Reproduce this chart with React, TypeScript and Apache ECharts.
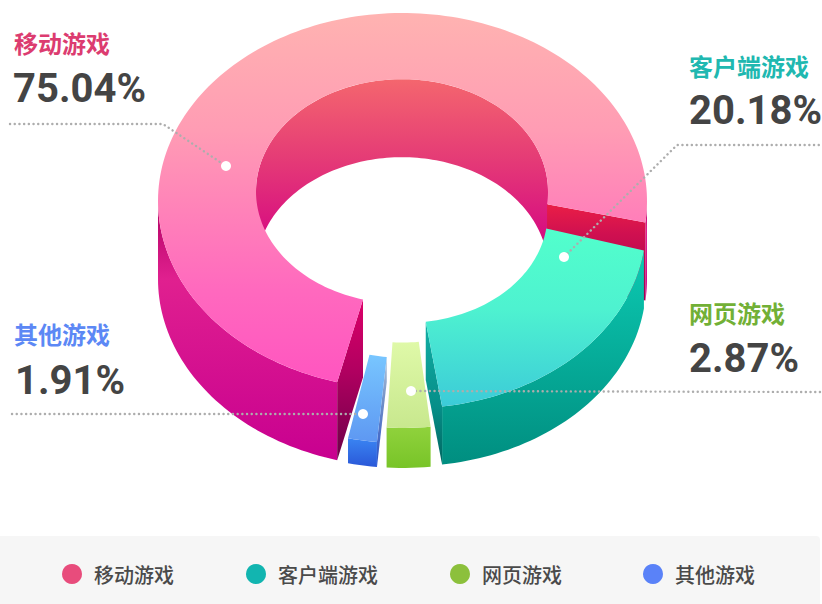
import React, { useEffect, useRef } from "react";
import * as echarts from "echarts";

const categories = ["移动游戏", "客户端游戏", "网页游戏", "其他游戏"];
const shares = [75.04, 20.18, 2.87, 1.91];

const CJK = '"Noto Sans CJK SC", "Noto Sans", sans-serif';
const NUM = 'Roboto, "Noto Sans", sans-serif';

const vgrad = (stops: [number, string][]) => ({
  type: "linear", x: 0, y: 0, x2: 0, y2: 1,
  colorStops: stops.map(([offset, color]) => ({ offset, color })),
});

const OUTER = { cx: 402.5, cy: 201, rx: 244.5, ry: 188 };
const INNER = { cx: 402, cy: 191.4, rx: 146, ry: 112.2 };

type Look = {
  start: number; scale: number; dx: number; dy: number; rot: number; depth: number;
  top: any; wall: any; innerWall?: any; caps: { at: "start" | "end"; fill: any }[];
};

const looks: Look[] = [
  {
    start: 105.5, scale: 0.9665, dx: 0, dy: 0, rot: 0, depth: 78,
    top: vgrad([[0, "#FFB3B1"], [0.32, "#FF9CB4"], [0.5, "#FF86B8"], [0.75, "#FF69BE"], [1, "#FF55C0"]]),
    wall: vgrad([[0, "#B00060"], [0.3, "#E0208F"], [1, "#C80090"]]),
    innerWall: vgrad([[0, "#F4666E"], [0.41, "#E53C76"], [0.8, "#D81080"], [1, "#C80488"]]),
    caps: [
      { at: "start", fill: vgrad([[0, "#DC0068"], [0.45, "#B00060"], [1, "#6C0048"]]) },
      { at: "end", fill: vgrad([[0, "#EA1E46"], [0.3, "#D01050"], [1, "#A00050"]]) },
    ],
  },
  {
    start: 5.6, scale: 1, dx: -1, dy: 19, rot: 0.05, depth: 58,
    top: vgrad([[0, "#52FFCC"], [0.45, "#4EF2D0"], [1, "#3CCBD8"]]),
    wall: vgrad([[0, "#0CCAB2"], [1, "#008E80"]]),
    caps: [{ at: "end", fill: vgrad([[0, "#12AFA6"], [0.6, "#068E88"], [1, "#006660"]]) }],
  },
  {
    start: 83.4, scale: 1, dx: 0, dy: 39, rot: 0, depth: 40,
    top: vgrad([[0, "#DFF9A8"], [1, "#C8E88E"]]),
    wall: vgrad([[0, "#90D23C"], [1, "#78C428"]]),
    caps: [],
  },
  {
    start: 96, scale: 1, dx: 0, dy: 54, rot: 0, depth: 25,
    top: vgrad([[0, "#78C6FF"], [1, "#5E98F2"]]),
    wall: vgrad([[0, "#3A84F2"], [1, "#2A58D8"]]),
    caps: [{ at: "start", fill: vgrad([[0, "#B8C8D8"], [0.4, "#7090C8"], [1, "#2850C8"]]) }],
  },
];

const legendColors = ["#E84C7C", "#12B5B0", "#8CC03C", "#5A82F8"];
const titleColors = ["#DC3C70", "#20B8B0", "#72B036", "#5C88F5"];
const labelPos: [number, number, number, number][] = [
  [14, 42, 13, 88],
  [689, 65, 689, 110],
  [689, 312, 689, 358],
  [14, 333, 15, 380],
];
const leaders: number[][][] = [
  [[10, 124], [163, 124], [226, 166]],
  [[564, 257], [677, 145], [820, 145]],
  [[411, 391], [820, 392]],
  [[12, 414], [363, 414]],
];

const total = shares.reduce((a, b) => a + b, 0);
const rad = (d: number) => (d * Math.PI) / 180;

function pt(e: typeof OUTER, deg: number, l: Look, lift: number): number[] {
  const x = e.cx + e.rx * Math.cos(rad(deg));
  const y = e.cy + e.ry * Math.sin(rad(deg));
  const rx = x - OUTER.cx;
  const ry = y - OUTER.cy;
  return [
    OUTER.cx + rx - l.rot * ry + l.dx,
    OUTER.cy + ry + l.rot * rx + l.dy + lift,
  ];
}

function arc(e: typeof OUTER, a: number, b: number, l: Look, lift: number) {
  const n = Math.max(2, Math.ceil(Math.abs(b - a) / 1.5));
  const out: number[][] = [];
  for (let i = 0; i <= n; i++) out.push(pt(e, a + ((b - a) * i) / n, l, lift));
  return out;
}

const poly = (points: number[][], fill: any) => ({
  type: "polygon", shape: { points }, style: { fill, stroke: "none" }, silent: true,
});

function makeRender(idx: number) {
  const l = looks[idx];
  return (_p: any, api: any) => {
    const value = api.value(0);
    const a = l.start;
    const b = a + (value / total) * 360 * l.scale;
    const children: any[] = [];
    // outer wall: only the parts of the ring that face the viewer
    for (let k = 0; k <= 1; k++) {
      const lo = Math.max(a, k * 360);
      const hi = Math.min(b, 180 + k * 360);
      if (hi > lo) {
        children.push(poly(
          [...arc(OUTER, lo, hi, l, 0), ...arc(OUTER, hi, lo, l, l.depth)], l.wall));
      }
    }
    if (l.innerWall) {
      const lo = Math.max(a, 180);
      const hi = Math.min(b, 360);
      children.push(poly(
        [...arc(INNER, lo, hi, l, 0), ...arc(INNER, hi, lo, l, l.depth)], l.innerWall));
    }
    l.caps.forEach((c) => {
      const t = c.at === "start" ? a : b;
      children.push(poly([
        pt(INNER, t, l, 0), pt(OUTER, t, l, 0), pt(OUTER, t, l, l.depth), pt(INNER, t, l, l.depth),
      ], c.fill));
    });
    children.push(poly([...arc(OUTER, a, b, l, 0), ...arc(INNER, b, a, l, 0)], l.top));
    return { type: "group", children };
  };
}

export default function App() {
  const ref = useRef<HTMLDivElement>(null);
  useEffect(() => {
    const chart = echarts.init(ref.current!, undefined, { renderer: "svg" });
    const texts: any[] = [];
    categories.forEach((c, i) => {
      const [tx, ty, nx, ny] = labelPos[i];
      texts.push({
        type: "text", z: 100, silent: true,
        style: { text: c, x: tx, y: ty, fill: titleColors[i], fontSize: 24, fontWeight: 700, fontFamily: CJK, textVerticalAlign: "middle" },
      });
      texts.push({
        type: "text", z: 100, silent: true,
        style: { text: shares[i].toFixed(2) + "%", x: nx, y: ny, fill: "#444444", fontSize: 40, fontWeight: 700, fontFamily: NUM, textVerticalAlign: "middle" },
      });
    });
    const lines = leaders.flatMap((pts) => {
      const dot = pts.length === 3 && pts[0][0] < 100 ? pts[2] : pts.length === 2 && pts[0][0] < 100 ? pts[1] : pts[0];
      return [
        {
          type: "polyline", z: 90, silent: true, shape: { points: pts },
          style: { stroke: "#ADADAD", lineWidth: 2.4, lineDash: [0.1, 4.6], lineCap: "round", fill: "none" },
        },
        { type: "circle", z: 91, silent: true, shape: { cx: dot[0], cy: dot[1], r: 5 }, style: { fill: "#FFFFFF" } },
      ];
    });
    chart.setOption({
      animation: false,
      backgroundColor: "#FFFFFF",
      legend: {
        left: 57, top: 559, itemWidth: 20, itemHeight: 20, itemGap: 72, selectedMode: false, icon: "circle",
        textStyle: { fontFamily: CJK, fontSize: 20, fontWeight: 500, color: "#4A4A4A", padding: [0, 0, 0, 7] },
        formatter: (name: string) => (name === categories[2] ? name + "  " : name),
        data: categories,
      },
      graphic: {
        elements: [
          { type: "rect", z: -1, silent: true, shape: { x: 0, y: 536, width: 820, height: 68, r: [0, 4, 0, 0] }, style: { fill: "#F6F6F6" } },
          ...lines,
          ...texts,
        ],
      },
      series: categories.map((name, i) => ({
        type: "custom", name, coordinateSystem: "none", silent: true,
        itemStyle: { color: legendColors[i] },
        data: [[shares[i]]],
        renderItem: makeRender(i),
      })),
    });
    return () => chart.dispose();
  }, []);
  return <div ref={ref} style={{ position: "absolute", left: 0, top: 0, width: 822, height: 604 }} />;
}
